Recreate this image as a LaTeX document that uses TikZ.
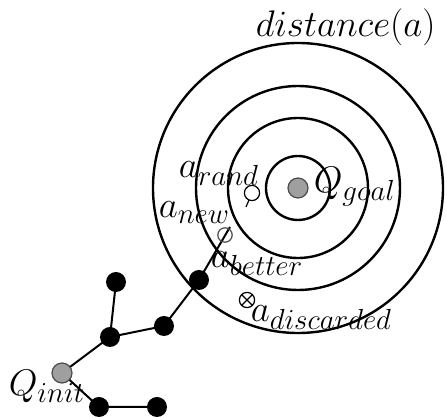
\documentclass[tikz,border=0pt]{standalone}
\usepackage{fix-cm}
\usepackage{amsmath, amssymb}
\DeclareMathSizes{18.5}{18.5}{14.5}{11}

\tikzset{
  ring/.style={line width=1.2pt},
  edge/.style={line width=1pt},
  marker/.style={line width=0.6pt},
  lbl/.style={anchor=base west, inner sep=0pt}
}

\begin{document}
\begin{tikzpicture}[x=0.5pt,y=-0.5pt,thick]
            \useasboundingbox (0,0) rectangle (447,417);
            \fontsize{18.5}{22}\selectfont
            % goal and the distance rings
            \coordinate (goal) at (298,188);
            \foreach \r in {32,70,102,145}
            \draw[ring] (goal) circle (\r*0.5pt);
            % tree
            \coordinate (init) at (62,373);
            \coordinate (t1) at (116,282);
            \coordinate (t2) at (110,337);
            \coordinate (t3) at (164,326);
            \coordinate (t4) at (199,280);
            \coordinate (t5) at (99,407);
            \coordinate (t6) at (157,407);
            \coordinate (new) at (225,235);
            \coordinate (newend) at (230,227);
            \coordinate (rand) at (252,193);
            \coordinate (stem) at (246,207);
            \coordinate (disc) at (247,300);
            \draw[edge] (init) -- (t2) -- (t1);
            \draw[edge] (t2) -- (t3) -- (t4) -- (newend);
            \draw[edge] (init) -- (t5) -- (t6);
            \draw[marker] (stem) -- (rand);
            \foreach \n in {t1,t2,t3,t4,t5,t6}
            \fill (\n) circle (5pt);
            \filldraw[fill=gray!75, draw=black!70, marker] (init) circle (5pt);
            \filldraw[fill=gray!75, draw=black!70, marker] (goal) circle (5pt);
            % samples
            \filldraw[fill=white, marker] (rand) circle (3.8pt);
            \draw[marker, draw=black!70] (new) circle (3.6pt);
            \draw[marker] (disc) circle (3.8pt);
            \draw[marker] ([shift={(-2.6pt,-2.6pt)}]disc) -- ([shift={(2.6pt,2.6pt)}]disc);
            \draw[marker] ([shift={(-2.6pt,2.6pt)}]disc) -- ([shift={(2.6pt,-2.6pt)}]disc);
            % labels
            \node[lbl] (ldist) at (255,37) {$distance(a)$};
            \node[lbl] (lgoal) at (313,193) {$Q_{goal}$};
            \node[lbl] (lrand) at (178,178) {$a_{rand}$};
            \node[lbl] (lnew) at (158,218) {$a_{new}$};
            \node[lbl] (lbetter) at (210,268) {$a_{better}$};
            \node[lbl] (ldisc) at (250,322) {$a_{discarded}$};
            \node[lbl] (linit) at (8,396) {$Q_{init}$};
        \end{tikzpicture}
\end{document}
